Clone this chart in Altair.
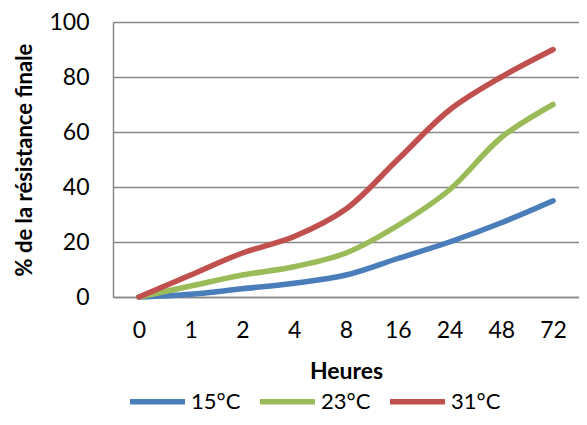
import altair as alt
import pandas as pd

hours = ["0", "1", "2", "4", "8", "16", "24", "48", "72"]
s15 = [0, 1, 3, 5, 8, 14, 20, 27, 35]
s23 = [0, 4, 8, 11, 16, 26, 39, 58, 70]
s31 = [0, 8, 16, 22, 32, 50, 68, 80, 90]
series = ["15°C", "23°C", "31°C"]
colors = ["#4A7EBB", "#9BBB59", "#C0504D"]

rows = []
for name, vals in zip(series, [s15, s23, s31]):
    for h, v in zip(hours, vals):
        rows.append({"Heures": h, "val": v, "serie": name})
df = pd.DataFrame(rows)

FONT = "Lato"

chart = alt.Chart(df).mark_line(strokeWidth=5.5, interpolate="catmull-rom", strokeCap="round").encode(
    x=alt.X("Heures:N", sort=hours, scale=alt.Scale(paddingInner=0, paddingOuter=0.5),
            axis=alt.Axis(title="Heures", labelAngle=0, ticks=False, domainColor="#888888",
                          domainWidth=1.5, labelFontSize=23, labelPadding=22, labelColor="#000",
                          titleFontSize=23, titleFontWeight="bold", titlePadding=18, titleColor="#000",
                          labelFont=FONT, titleFont=FONT)),
    y=alt.Y("val:Q", scale=alt.Scale(domain=[0, 100]),
            axis=alt.Axis(title="% de la résistance finale", values=[0, 20, 40, 60, 80, 100],
                          ticks=False, domainColor="#888888", domainWidth=1.5,
                          gridColor="#888888", gridWidth=1.5, labelFontSize=23, labelPadding=24,
                          labelColor="#000", titleFontSize=22, titleFontWeight="bold",
                          titlePadding=12, titleColor="#000", labelFont=FONT, titleFont=FONT)),
    color=alt.Color("serie:N", scale=alt.Scale(domain=series, range=colors),
                    legend=alt.Legend(title=None, orient="none", direction="horizontal",
                                      legendX=14, legendY=349, symbolType="stroke",
                                      symbolSize=3025, symbolStrokeWidth=5.5,
                                      labelFontSize=22, labelFont=FONT, labelColor="#000",
                                      columnPadding=8, labelOffset=3)),
).properties(
    width=466, height=275,
    padding={"left": 105, "top": 14, "right": 0, "bottom": 120},
    autosize=alt.AutoSizeParams(type="none"),
).configure_view(stroke=None)

chart.save("out.html", embed_options={"renderer": "svg", "actions": False})
